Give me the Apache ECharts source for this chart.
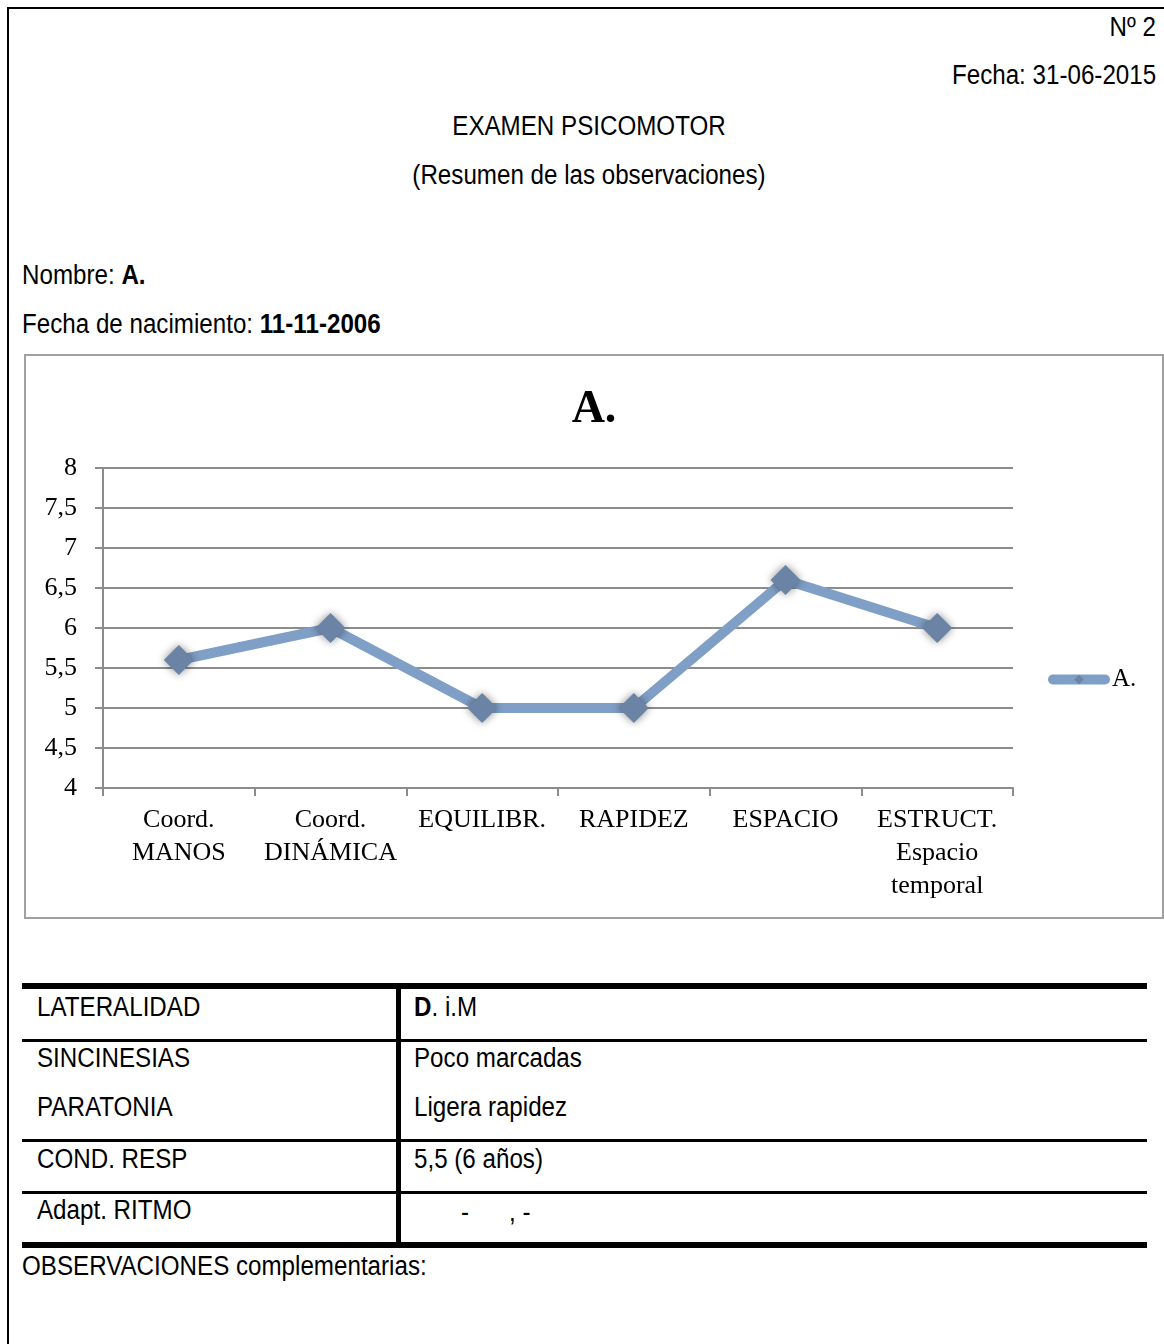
<!DOCTYPE html>
<html>
<head>
<meta charset="utf-8">
<script src="https://cdn.jsdelivr.net/npm/echarts@6/dist/echarts.min.js"></script>
<style>
  html, body { margin:0; padding:0; background:#fff; }
  body { width:1164px; height:1344px; position:relative; overflow:hidden;
         font-family:"Liberation Sans Narrow","Arial Narrow","Liberation Sans",sans-serif; color:#000; }
  .t { position:absolute; font-size:27px; line-height:30px; white-space:pre; transform:scaleX(0.895); transform-origin:left center; }
  .r { transform-origin:right center; }
  .c { transform-origin:center center; }
  .line { position:absolute; background:#000; }
  #box { position:absolute; left:24px; top:354px; width:1136px; height:561px; border:2px solid #a0a0a0; }
  #chart { position:absolute; left:0; top:0; width:1136px; height:561px; }
</style>
</head>
<body>
<div class="line" style="left:7px;top:7px;width:1157px;height:2px"></div>
<div class="line" style="left:7px;top:7px;width:2px;height:1337px"></div>

<div class="t r" style="right:8px;top:12px">Nº 2</div>
<div class="t r" style="right:8px;top:60px">Fecha: 31-06-2015</div>
<div class="t c" style="left:0;width:1178px;text-align:center;top:111px">EXAMEN PSICOMOTOR</div>
<div class="t c" style="left:0;width:1178px;text-align:center;top:160px">(Resumen de las observaciones)</div>
<div class="t" style="left:22px;top:260px">Nombre: <b>A.</b></div>
<div class="t" style="left:22px;top:309px">Fecha de nacimiento: <b>11-11-2006</b></div>

<div id="box"><div id="chart"></div></div>

<!-- table -->
<div class="line" style="left:22px;top:983px;width:1125px;height:6px"></div>
<div class="line" style="left:22px;top:1039px;width:1125px;height:3px"></div>
<div class="line" style="left:22px;top:1139px;width:1125px;height:3px"></div>
<div class="line" style="left:22px;top:1191px;width:1125px;height:3px"></div>
<div class="line" style="left:22px;top:1242px;width:1125px;height:6px"></div>
<div class="line" style="left:396px;top:985px;width:5px;height:260px"></div>

<div class="t" style="left:37px;top:992px">LATERALIDAD</div>
<div class="t" style="left:414px;top:992px"><b>D</b>. i.M</div>
<div class="t" style="left:37px;top:1043px">SINCINESIAS</div>
<div class="t" style="left:414px;top:1043px">Poco marcadas</div>
<div class="t" style="left:37px;top:1092px">PARATONIA</div>
<div class="t" style="left:414px;top:1092px">Ligera rapidez</div>
<div class="t" style="left:37px;top:1144px">COND. RESP</div>
<div class="t" style="left:414px;top:1144px">5,5 (6 años)</div>
<div class="t" style="left:37px;top:1195px">Adapt. RITMO</div>
<div class="t" style="left:461px;top:1197px">-</div>
<div class="t" style="left:509px;top:1197px">, -</div>
<div class="t" style="left:22px;top:1251px">OBSERVACIONES complementarias:</div>

<script>
const categories = ["Coord.\nMANOS", "Coord.\nDINÁMICA", "EQUILIBR.", "RAPIDEZ", "ESPACIO", "ESTRUCT.\nEspacio\ntemporal"];
const values = [5.6, 6.0, 5.0, 5.0, 6.6, 6.0];
const seriesName = "A.";
const yMin = 4, yMax = 8, yStep = 0.5;

const serif = '"Liberation Serif","DejaVu Serif",serif';
const chart = echarts.init(document.getElementById('chart'), null, {renderer:'canvas'});
chart.setOption({
  animation:false,
  title:{ text:"A.", left:'center', top:26,
          textStyle:{ fontFamily:serif, fontSize:46, fontWeight:'bold', color:'#000' } },
  legend:{ left:1017, top:306, data:[seriesName], itemWidth:52, itemHeight:12, itemGap:0,
           lineStyle:{ width:10, cap:'round' },
           textStyle:{ fontFamily:serif, fontSize:25, color:'#000', padding:[0,0,0,2] } },
  grid:{ left:77, right:149, top:112, bottom:129, containLabel:false },
  xAxis:{ type:'category', data:categories, boundaryGap:true,
          axisLine:{ lineStyle:{ color:'#8c8c8c', width:2 } },
          axisTick:{ show:true, length:8, lineStyle:{ color:'#8c8c8c', width:2 } },
          axisLabel:{ interval:0, fontFamily:serif, fontSize:26, color:'#000', lineHeight:33, margin:16, align:'center' } },
  yAxis:{ type:'value', min:yMin, max:yMax, interval:yStep,
          axisLine:{ show:true, lineStyle:{ color:'#8c8c8c', width:2 } },
          axisTick:{ show:true, length:8, lineStyle:{ color:'#8c8c8c', width:2 } },
          splitLine:{ lineStyle:{ color:'#8c8c8c', width:2 } },
          axisLabel:{ fontFamily:serif, fontSize:26, color:'#000', margin:26,
                      formatter: v => String(v).replace('.', ',') } },
  series:[{ name:seriesName, type:'line', data:values,
            symbol:'diamond', symbolSize:30,
            lineStyle:{ color:'#7f9fc6', width:10, cap:'round' },
            itemStyle:{ color:'#6b83a4', shadowBlur:8, shadowColor:'rgba(0,0,0,0.45)' } }]
});
</script>
</body>
</html>
